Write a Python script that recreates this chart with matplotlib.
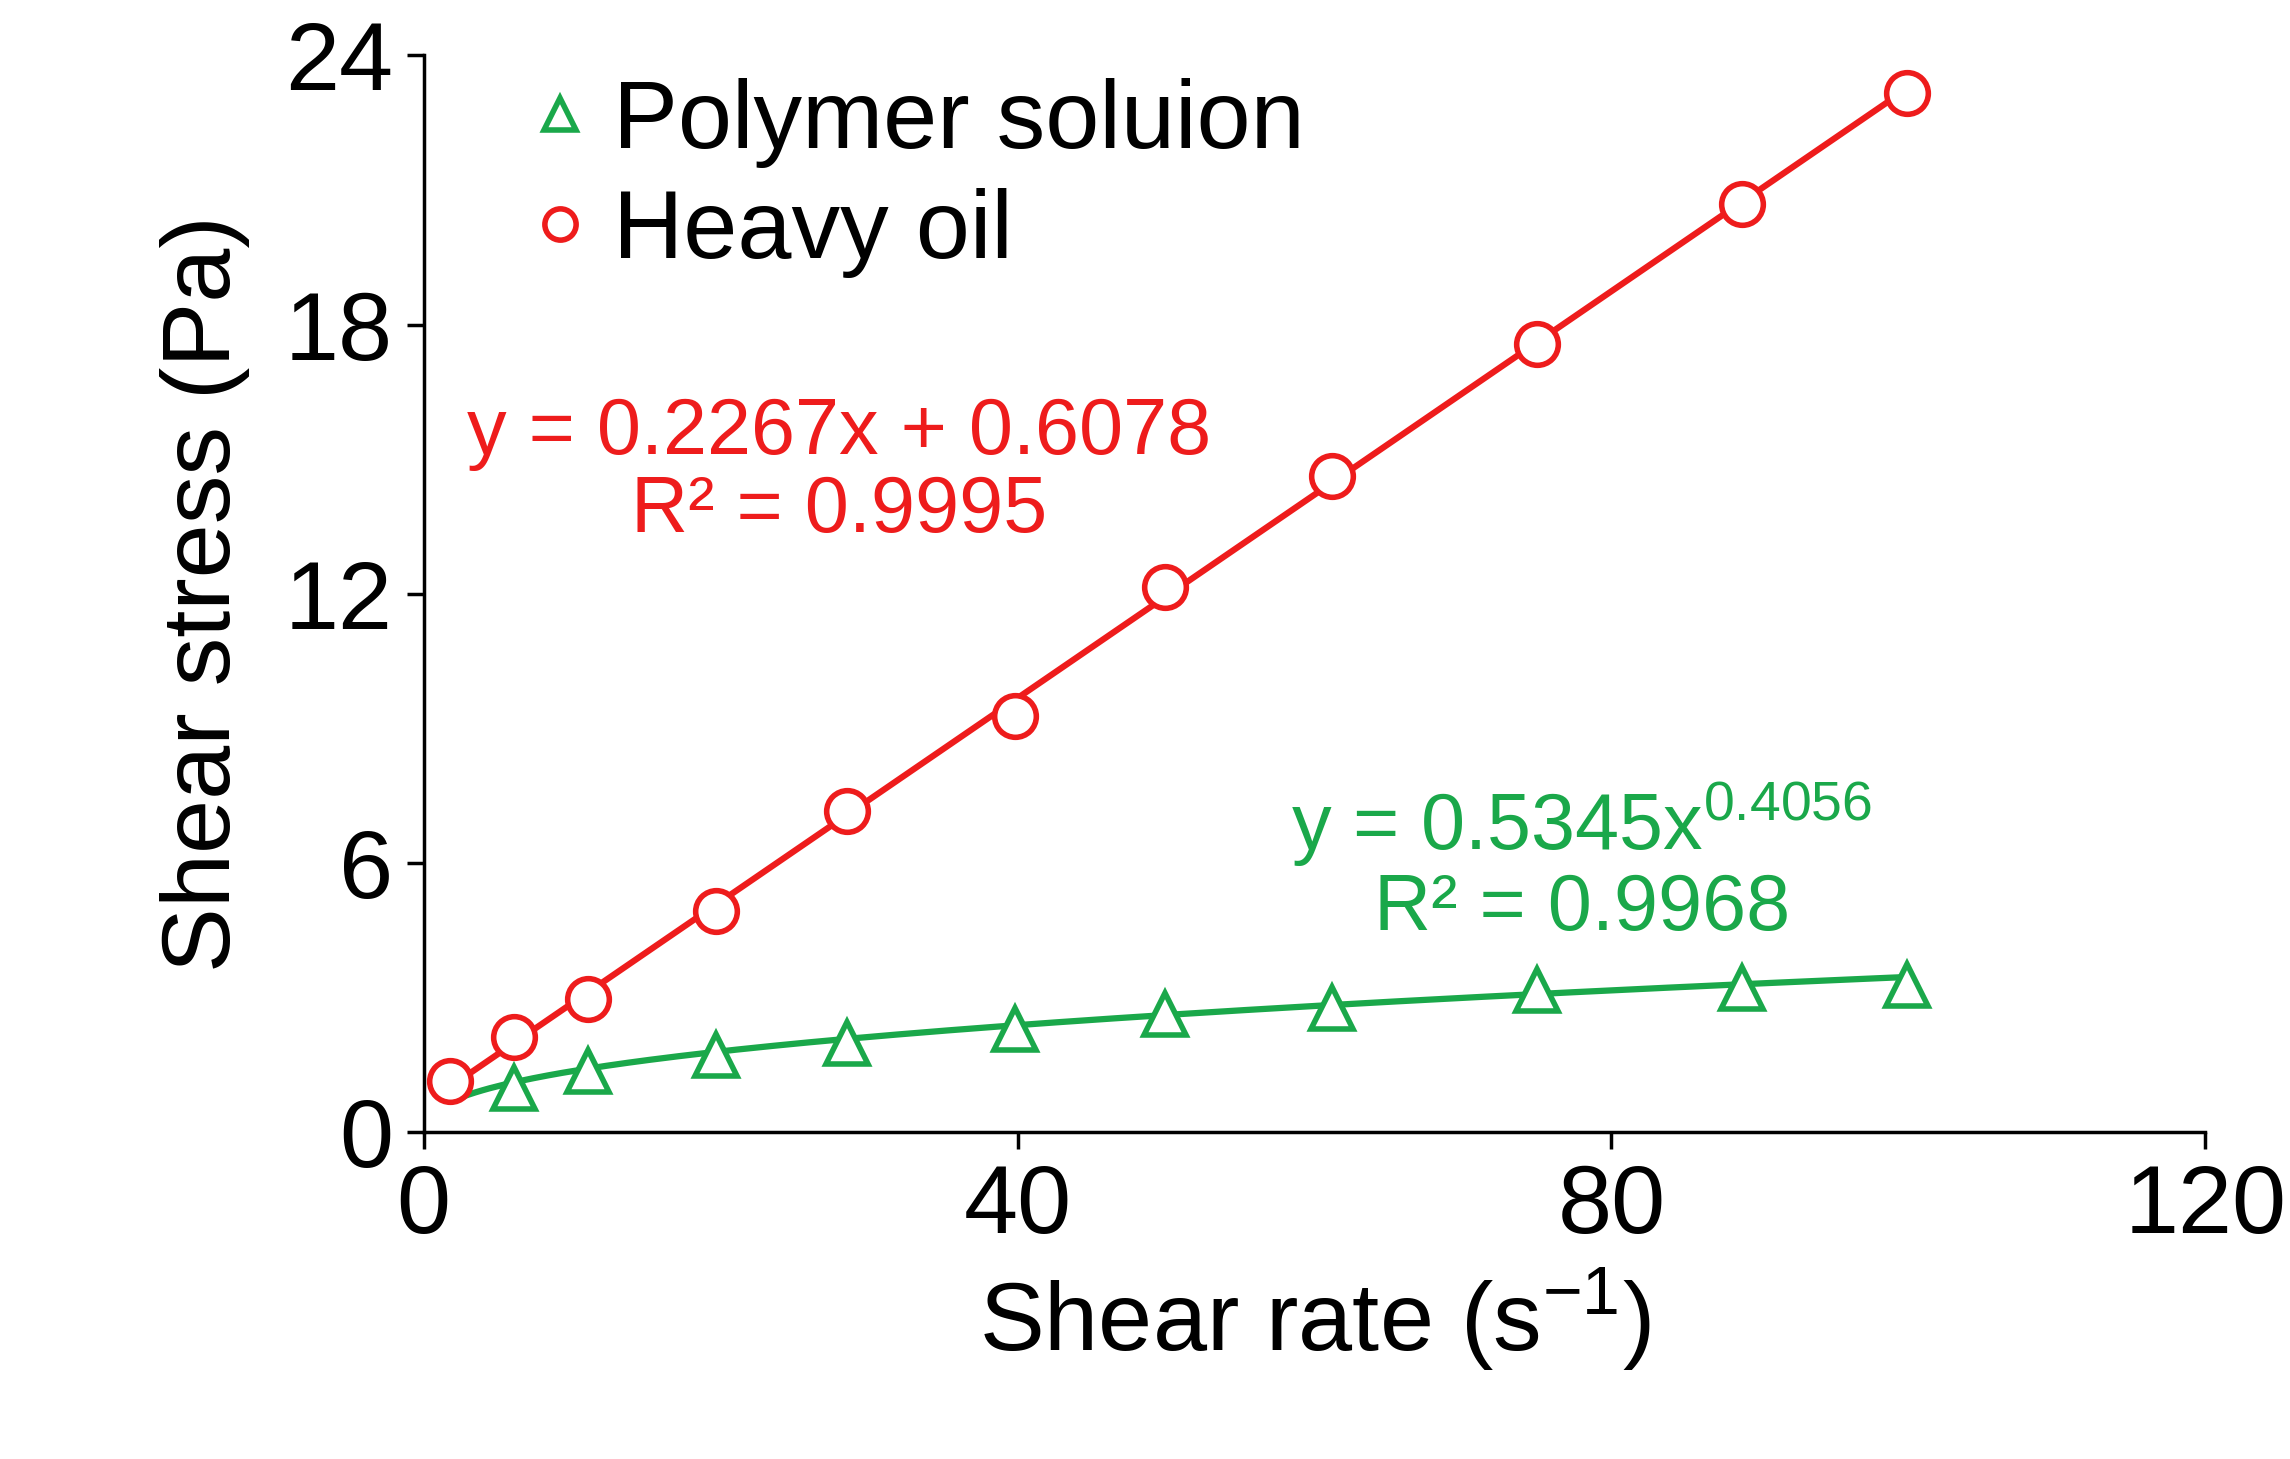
import numpy as np
import matplotlib
matplotlib.use("Agg")
import matplotlib.pyplot as plt

plt.rcParams['font.family'] = ['Liberation Sans', 'DejaVu Sans']
plt.rcParams['mathtext.fontset'] = 'custom'
plt.rcParams['mathtext.rm'] = 'Liberation Sans'
plt.rcParams['mathtext.it'] = 'Liberation Sans'
plt.rcParams['mathtext.default'] = 'regular'
plt.rcParams['axes.unicode_minus'] = False

oil_x = [1.8, 6.1, 11.1, 19.7, 28.5, 39.8, 49.9, 61.2, 75.0, 88.8, 99.9]
oil_y = [1.14, 2.12, 2.96, 4.92, 7.17, 9.28, 12.15, 14.63, 17.56, 20.68, 23.16]
poly_x = [6.1, 11.1, 19.7, 28.5, 39.8, 49.9, 61.2, 75.0, 88.8, 99.9]
poly_y = [0.98, 1.37, 1.73, 1.99, 2.31, 2.64, 2.77, 3.16, 3.22, 3.29]
oil_fit = (0.2267, 0.6078)
poly_fit = (0.5345, 0.4056)

red = '#ee1c1c'
green = '#1aa84a'

fig = plt.figure(figsize=(22.9, 14.59), dpi=100)
ax = fig.add_axes([0.185, 0.224, 0.778, 0.738])

xf = np.linspace(1.8, 99.9, 200)
ax.plot(xf, oil_fit[0]*xf + oil_fit[1], color=red, lw=4.5, zorder=2)
xg = np.linspace(2.5, 99.9, 200)
ax.plot(xg, poly_fit[0]*xg**poly_fit[1], color=green, lw=4.5, zorder=2)

ax.plot(poly_x, poly_y, ls='none', marker='^', ms=30, mfc='white', mec=green, mew=4,
        label='Polymer soluion', zorder=3)
ax.plot(oil_x, oil_y, ls='none', marker='o', ms=30, mfc='white', mec=red, mew=4,
        label='Heavy oil', zorder=3)

ax.set_xlim(0, 120)
ax.set_ylim(0, 24)
ax.set_xticks([0, 40, 80, 120])
ax.set_yticks([0, 6, 12, 18, 24])
ax.tick_params(labelsize=70, width=2.5, length=12, pad=10)
for s in ['top', 'right']:
    ax.spines[s].set_visible(False)
for s in ['left', 'bottom']:
    ax.spines[s].set_linewidth(2.5)
ax.set_xlabel('Shear rate (s$^{-1}$)', fontsize=70, labelpad=10)
ax.set_ylabel('Shear stress (Pa)', fontsize=70, labelpad=25)

leg = ax.legend(loc='upper left', bbox_to_anchor=(0.0, 1.06), frameon=False, fontsize=70,
                handletextpad=0.05, handlelength=1.0, markerscale=0.75, labelspacing=0.2)

ax.text(28, 14.7, 'y = 0.2267x + 0.6078\nR² = 0.9995', color=red, fontsize=57,
        ha='center', va='center', linespacing=1.05)
ax.text(78, 6.0, 'y = 0.5345x$^{0.4056}$\nR² = 0.9968', color=green, fontsize=57,
        ha='center', va='center', linespacing=1.05)

fig.savefig('out.png', dpi=100)
